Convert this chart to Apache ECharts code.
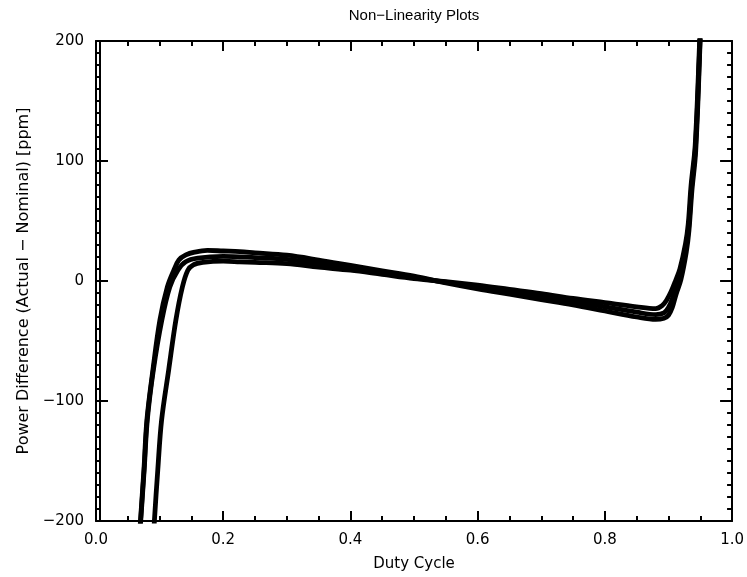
<!DOCTYPE html>
<html>
<head>
<meta charset="utf-8">
<script src="https://cdn.jsdelivr.net/npm/echarts@6/dist/echarts.min.js"></script>
<style>html,body{margin:0;padding:0;background:#fff;}#c{width:747px;height:577px;}</style>
</head>
<body>
<div id="c"></div>
<script>
// Duty cycle vs power difference (ppm)
const curveA = [
  [0.064, -250], [0.0699, -200], [0.0754, -157], [0.0800, -116], [0.0895, -74], [0.1005, -32.5],
  [0.1122, -5], [0.1224, 9], [0.1303, 17.5], [0.1413, 21.7], [0.155, 24], [0.175, 25.5],
  [0.2, 25], [0.226, 24.5], [0.25, 23.5], [0.3, 21.5], [0.35, 17.5], [0.4, 13], [0.45, 8.5],
  [0.5, 4], [0.55, -1.5], [0.6, -6.5], [0.65, -11], [0.7, -15.5], [0.75, -20], [0.8, -25],
  [0.85, -30], [0.88, -32], [0.893, -31], [0.900, -28.5], [0.906, -22], [0.912, -11],
  [0.9195, 1], [0.928, 24], [0.9322, 42], [0.9368, 75], [0.9428, 108], [0.9498, 200], [0.9538, 260]
];
const curveB = [
  [0.0645, -250], [0.0703, -200], [0.0758, -157], [0.0806, -116], [0.0902, -74], [0.1035, -32.5],
  [0.116, -5], [0.1287, 9], [0.141, 16], [0.16, 19], [0.2, 20.5], [0.25, 19.5], [0.3, 18],
  [0.35, 14.5], [0.4, 11], [0.45, 7], [0.5, 3], [0.55, -1], [0.6, -5], [0.65, -9], [0.7, -13],
  [0.75, -17], [0.8, -21.5], [0.85, -26], [0.88, -28], [0.893, -26.5], [0.900, -22], [0.906, -15],
  [0.912, -5], [0.919, 6], [0.9276, 28], [0.9318, 45], [0.9363, 78], [0.9425, 112], [0.9495, 200], [0.9535, 260]
];
const curveC = [
  [0.0865, -250], [0.0918, -200], [0.0972, -157], [0.1031, -116], [0.1143, -74], [0.1256, -32.5],
  [0.1358, -5], [0.1444, 9], [0.153, 13.5], [0.168, 15.5], [0.2, 16.5], [0.226, 16], [0.25, 15.5],
  [0.3, 14.5], [0.35, 11.5], [0.4, 9], [0.45, 5.5], [0.5, 2], [0.55, -0.5], [0.6, -3.5], [0.65, -7],
  [0.7, -10.5], [0.75, -14.5], [0.8, -18], [0.85, -21.5], [0.88, -23], [0.89, -20.5], [0.897, -16],
  [0.904, -9], [0.911, 0], [0.918, 10], [0.9268, 31], [0.931, 47], [0.9356, 80], [0.942, 113],
  [0.949, 200], [0.953, 260]
];
const xRange = [0.0, 1.0];
const yRange = [-200, 200];
const xStep = 0.2;
const yStep = 100;
const titleText = 'Non\u2212Linearity Plots';
const xName = 'Duty Cycle';
const yName = 'Power Difference (Actual \u2212 Nominal) [ppm]';

const FONT = 'DejaVu Sans';
const lineStyle = { color: '#000', width: 2 };
const chart = echarts.init(document.getElementById('c'), null, { renderer: 'canvas' });

function xAx(pos, labels, name, gap, nameStyle) {
  return {
    type: 'value', position: pos, min: xRange[0], max: xRange[1], interval: xStep,
    axisLine: { show: true, onZero: false, lineStyle: lineStyle },
    axisTick: { show: true, inside: true, length: 10, lineStyle: lineStyle },
    minorTick: { show: true, splitNumber: 4, length: 5, lineStyle: lineStyle },
    splitLine: { show: false },
    axisLabel: { show: labels, margin: 12, color: '#000', fontSize: 15, fontFamily: FONT,
      formatter: v => v.toFixed(1) },
    name: name, nameLocation: 'middle', nameGap: gap,
    nameTextStyle: nameStyle
  };
}
function yAx(pos, labels, offset, ticks) {
  return {
    type: 'value', position: pos, offset: offset, min: yRange[0], max: yRange[1], interval: yStep,
    axisLine: { show: true, onZero: false, lineStyle: lineStyle },
    axisTick: { show: ticks, inside: true, length: 12, lineStyle: lineStyle },
    minorTick: { show: ticks, splitNumber: 10, length: 5, lineStyle: lineStyle },
    splitLine: { show: false },
    axisLabel: { show: labels, margin: 12, color: '#000', fontSize: 15, fontFamily: FONT,
      formatter: v => String(v).replace('-', '\u2212') },
    name: labels ? yName : '', nameLocation: 'middle', nameGap: 61,
    nameTextStyle: { color: '#000', fontSize: 16, fontFamily: FONT }
  };
}
function ser(data) {
  return {
    type: 'line', data: data, xAxisIndex: 0, yAxisIndex: 0, showSymbol: false, symbol: 'none',
    smooth: 0.35, clip: true,
    lineStyle: { color: '#000', width: 4.8, cap: 'round', join: 'round' }
  };
}
chart.setOption({
  backgroundColor: '#fff',
  animation: false,
  grid: { left: 96, right: 14, top: 41, bottom: 56, containLabel: false },
  xAxis: [
    xAx('bottom', true, xName, 36, { color: '#000', fontSize: 15, fontFamily: FONT }),
    xAx('top', false, titleText, 18, { color: '#000', fontSize: 15, fontFamily: 'Liberation Sans' })
  ],
  yAxis: [yAx('left', true, 0, true), yAx('right', false, 0, true), yAx('left', false, -4, false)],
  series: [ser(curveA), ser(curveB), ser(curveC)]
});
</script>
</body>
</html>
